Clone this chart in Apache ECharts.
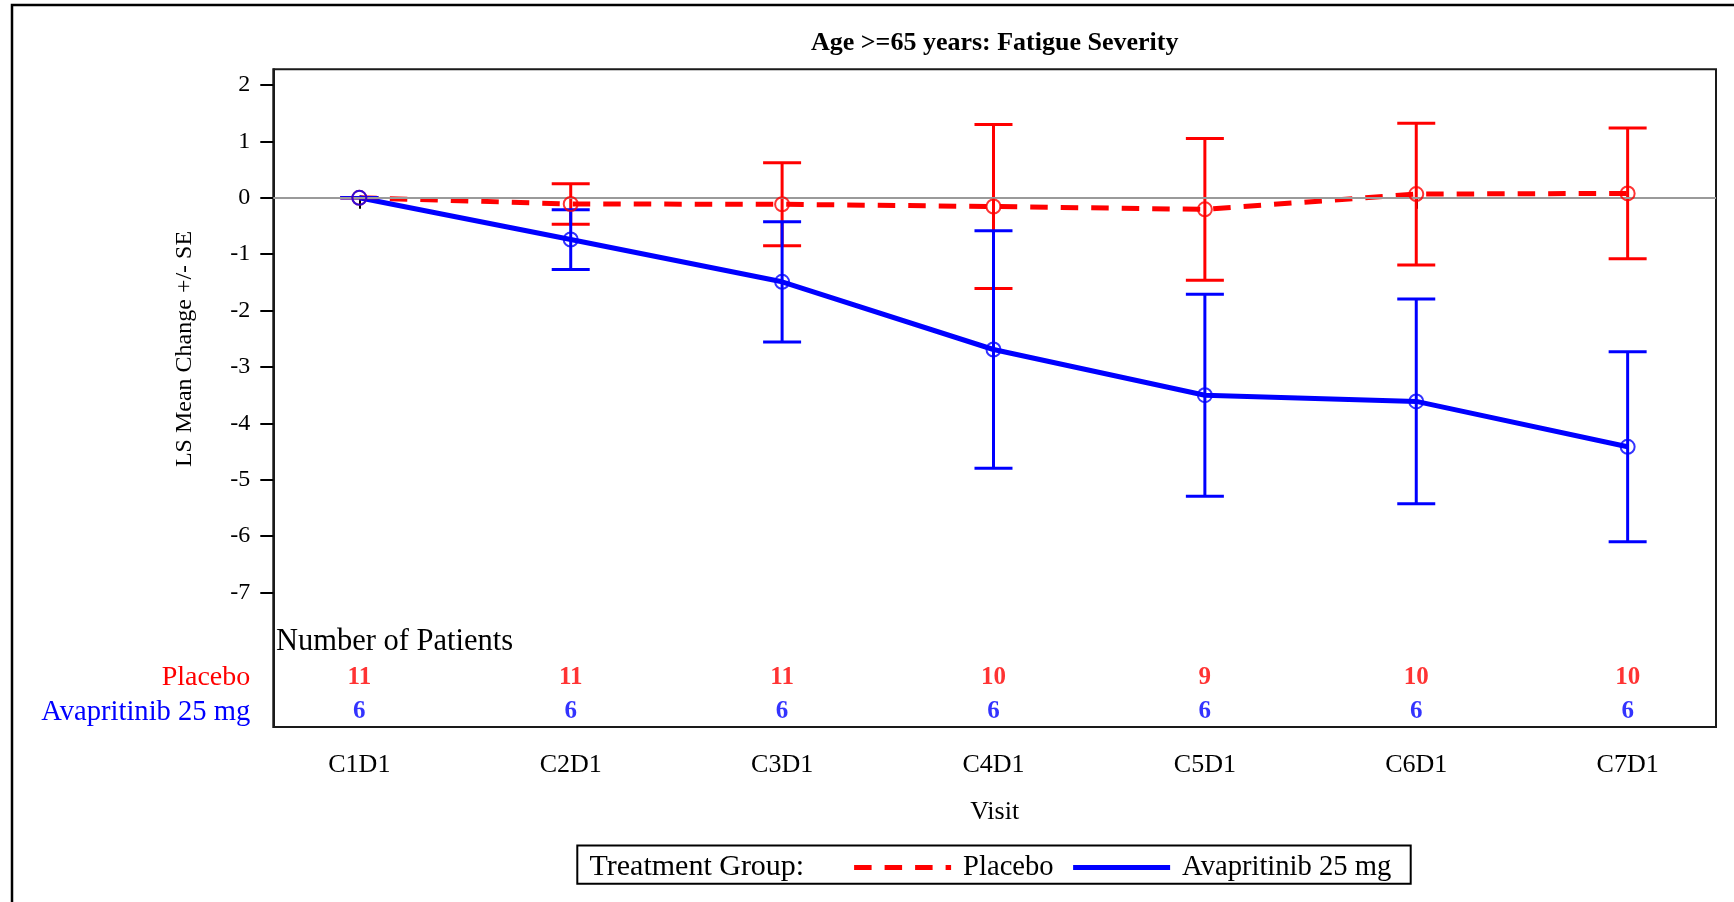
<!DOCTYPE html>
<html>
<head>
<meta charset="utf-8">
<title>Age >=65 years: Fatigue Severity</title>
<script src="https://cdn.jsdelivr.net/npm/echarts@6/dist/echarts.min.js"></script>
<style>
  html, body { margin: 0; padding: 0; background: #fff; }
  #chart { width: 1734px; height: 902px; }
</style>
</head>
<body>
<div id="chart"></div>
<script>
// Visits and LS mean change (+/- SE) per treatment group
const visits = ['C1D1', 'C2D1', 'C3D1', 'C4D1', 'C5D1', 'C6D1', 'C7D1'];
const placeboMean = [0, -0.11, -0.115, -0.155, -0.205, 0.065, 0.078];
const placeboSE   = [0, 0.36, 0.735, 1.455, 1.255, 1.255, 1.158];
const avapMean    = [0, -0.74, -1.49, -2.69, -3.50, -3.61, -4.415];
const avapSE      = [0, 0.53, 1.065, 2.105, 1.79, 1.815, 1.685];
const placeboN    = [11, 11, 11, 10, 9, 10, 10];
const avapN       = [6, 6, 6, 6, 6, 6, 6];
const yTicks      = [2, 1, 0, -1, -2, -3, -4, -5, -6, -7];

const RED = '#ff0000';
const BLUE = '#0000ff';
const FONT = '"Liberation Serif", "Times New Roman", serif';
const PLACEBO_DASH = [17.5, 13];

// Rows of the "Number of Patients" table sit below the plotted values
const ROW_PLACEBO = -8.514;
const ROW_AVAP = -9.117;
const CAP_W = 38;

const chart = echarts.init(document.getElementById('chart'), null, { renderer: 'canvas' });

function errorBars(color) {
  return function (params, api) {
    const x = api.value(0);
    const pLo = api.coord([x, api.value(1)]);
    const pHi = api.coord([x, api.value(2)]);
    const h = CAP_W / 2;
    const style = { stroke: color, lineWidth: 3, fill: null };
    const children = [
      { type: 'line', shape: { x1: pHi[0] - h, y1: pHi[1], x2: pHi[0] + h, y2: pHi[1] }, style: style },
      { type: 'line', shape: { x1: pLo[0] - h, y1: pLo[1], x2: pLo[0] + h, y2: pLo[1] }, style: style }
    ];
    if (Math.abs(pLo[1] - pHi[1]) > 0.5) {
      children.push({ type: 'line', shape: { x1: pHi[0], y1: pHi[1], x2: pLo[0], y2: pLo[1] }, style: style });
    }
    return { type: 'group', children: children };
  };
}

const pts = (arr) => arr.map((v, i) => [i + 1, v]);
const bars = (mean, se) => mean.map((m, i) => [i + 1, m - se[i], m + se[i]]);
const counts = (arr, row) => arr.map((n, i) => [i + 1, row, n]);

function markerSeries(name, data, color) {
  return {
    type: 'scatter', name: name, data: data, z: 5,
    symbol: 'circle', symbolSize: 14, silent: true,
    itemStyle: { color: 'rgba(0,0,0,0)', borderColor: color, borderWidth: 2 },
    emphasis: { disabled: true }
  };
}

function countSeries(name, data, color) {
  return {
    type: 'scatter', name: name, data: data, z: 5,
    symbolSize: 1, silent: true,
    itemStyle: { color: 'rgba(0,0,0,0)' },
    label: {
      show: true, position: 'inside',
      formatter: (p) => String(p.value[2]),
      color: color, fontFamily: FONT, fontWeight: 'bold', fontSize: 25
    },
    emphasis: { disabled: true }
  };
}

const option = {
  animation: false,
  backgroundColor: '#fff',
  grid: {
    left: 273.3, top: 69.3, width: 1442.7, height: 657.7,
    show: true, borderColor: '#1a1a1a', borderWidth: 2, backgroundColor: 'transparent'
  },
  xAxis: {
    type: 'value', min: 0.593, max: 7.418,
    name: 'Visit', nameLocation: 'middle', nameGap: 72,
    nameTextStyle: { fontFamily: FONT, fontSize: 26, color: '#000' },
    axisLine: { show: true, lineStyle: { color: '#1a1a1a', width: 2 } },
    axisTick: { show: true, length: 11, customValues: [1, 2, 3, 4, 5, 6, 7], lineStyle: { color: '#000', width: 2 } },
    axisLabel: {
      customValues: [1, 2, 3, 4, 5, 6, 7], margin: 25,
      formatter: (v) => visits[Math.round(v) - 1],
      fontFamily: FONT, fontSize: 26, color: '#000'
    },
    splitLine: { show: false }
  },
  yAxis: {
    type: 'value', min: -9.383, max: 2.278,
    axisLine: { show: true, lineStyle: { color: '#1a1a1a', width: 2 } },
    axisTick: { show: true, length: 13, customValues: yTicks, lineStyle: { color: '#000', width: 2 } },
    axisLabel: {
      customValues: yTicks.concat([ROW_PLACEBO, ROW_AVAP]), margin: 23,
      formatter: (v) => v === ROW_PLACEBO ? '{p|Placebo}'
        : v === ROW_AVAP ? '{a|Avapritinib 25 mg}' : '{t|' + v + '}',
      rich: {
        t: { fontFamily: FONT, fontSize: 24, color: '#000' },
        p: { fontFamily: FONT, fontSize: 28, color: RED },
        a: { fontFamily: FONT, fontSize: 28.6, color: BLUE }
      }
    },
    splitLine: { show: false }
  },
  legend: {
    data: [
      { name: 'Placebo', itemStyle: { opacity: 0 }, lineStyle: { width: 5, type: PLACEBO_DASH, color: RED } },
      { name: 'Avapritinib 25 mg', itemStyle: { opacity: 0 }, lineStyle: { width: 5, type: 'solid', color: BLUE } }
    ],
    left: 851.6, top: 853, padding: 0,
    itemGap: 17, itemWidth: 97, itemHeight: 14,
    itemStyle: { opacity: 0 },
    textStyle: { fontFamily: FONT, fontSize: 28.6, color: '#000', padding: [0, 0, 0, 7] }
  },
  graphic: [
    { type: 'rect', silent: true, shape: { x: 12, y: 5, width: 1800, height: 1000 },
      style: { fill: null, stroke: '#000', lineWidth: 2.5 } },
    { type: 'text', x: 994.7, y: 43, silent: true,
      style: { text: 'Age >=65 years: Fatigue Severity', fontFamily: FONT, fontWeight: 'bold', fontSize: 26,
               fill: '#000', align: 'center', verticalAlign: 'middle' } },
    { type: 'text', x: 184.7, y: 349, rotation: Math.PI / 2, silent: true,
      style: { text: 'LS Mean Change +/- SE', fontFamily: FONT, fontSize: 24,
               fill: '#000', align: 'center', verticalAlign: 'middle' } },
    { type: 'text', x: 276, y: 641.5, silent: true,
      style: { text: 'Number of Patients', fontFamily: FONT, fontSize: 30.5,
               fill: '#000', align: 'left', verticalAlign: 'middle' } },
    { type: 'rect', silent: true, shape: { x: 577.3, y: 845.5, width: 833.4, height: 38.3 },
      style: { fill: null, stroke: '#000', lineWidth: 2 } },
    { type: 'text', x: 589.5, y: 867.5, silent: true,
      style: { text: 'Treatment Group:', fontFamily: FONT, fontSize: 30,
               fill: '#000', align: 'left', verticalAlign: 'middle' } }
  ],
  series: [
    {
      type: 'line', name: 'Placebo', data: pts(placeboMean), z: 3,
      symbol: 'none', color: RED,
      lineStyle: { color: RED, width: 5, type: PLACEBO_DASH, cap: 'butt' },
      emphasis: { disabled: true }
    },
    {
      type: 'line', name: 'Avapritinib 25 mg', data: pts(avapMean), z: 3,
      symbol: 'none', color: BLUE,
      lineStyle: { color: BLUE, width: 5, type: 'solid', cap: 'butt' },
      emphasis: { disabled: true }
    },
    {
      type: 'line', name: 'reference', data: [], silent: true, z: 1,
      markLine: {
        silent: true, symbol: 'none', label: { show: false },
        lineStyle: { color: '#9a9a9a', width: 2, type: 'solid' },
        data: [{ yAxis: 0 }]
      }
    },
    {
      type: 'custom', name: 'Placebo', data: bars(placeboMean, placeboSE), z: 4,
      renderItem: errorBars(RED), encode: { x: 0, y: [1, 2] }, silent: true
    },
    {
      type: 'custom', name: 'Avapritinib 25 mg', data: bars(avapMean, avapSE), z: 4,
      renderItem: errorBars(BLUE), encode: { x: 0, y: [1, 2] }, silent: true
    },
    markerSeries('Placebo', pts(placeboMean), RED),
    markerSeries('Avapritinib 25 mg', pts(avapMean), BLUE),
    countSeries('Placebo', counts(placeboN, ROW_PLACEBO), RED),
    countSeries('Avapritinib 25 mg', counts(avapN, ROW_AVAP), BLUE)
  ]
};

chart.setOption(option);
</script>
</body>
</html>
